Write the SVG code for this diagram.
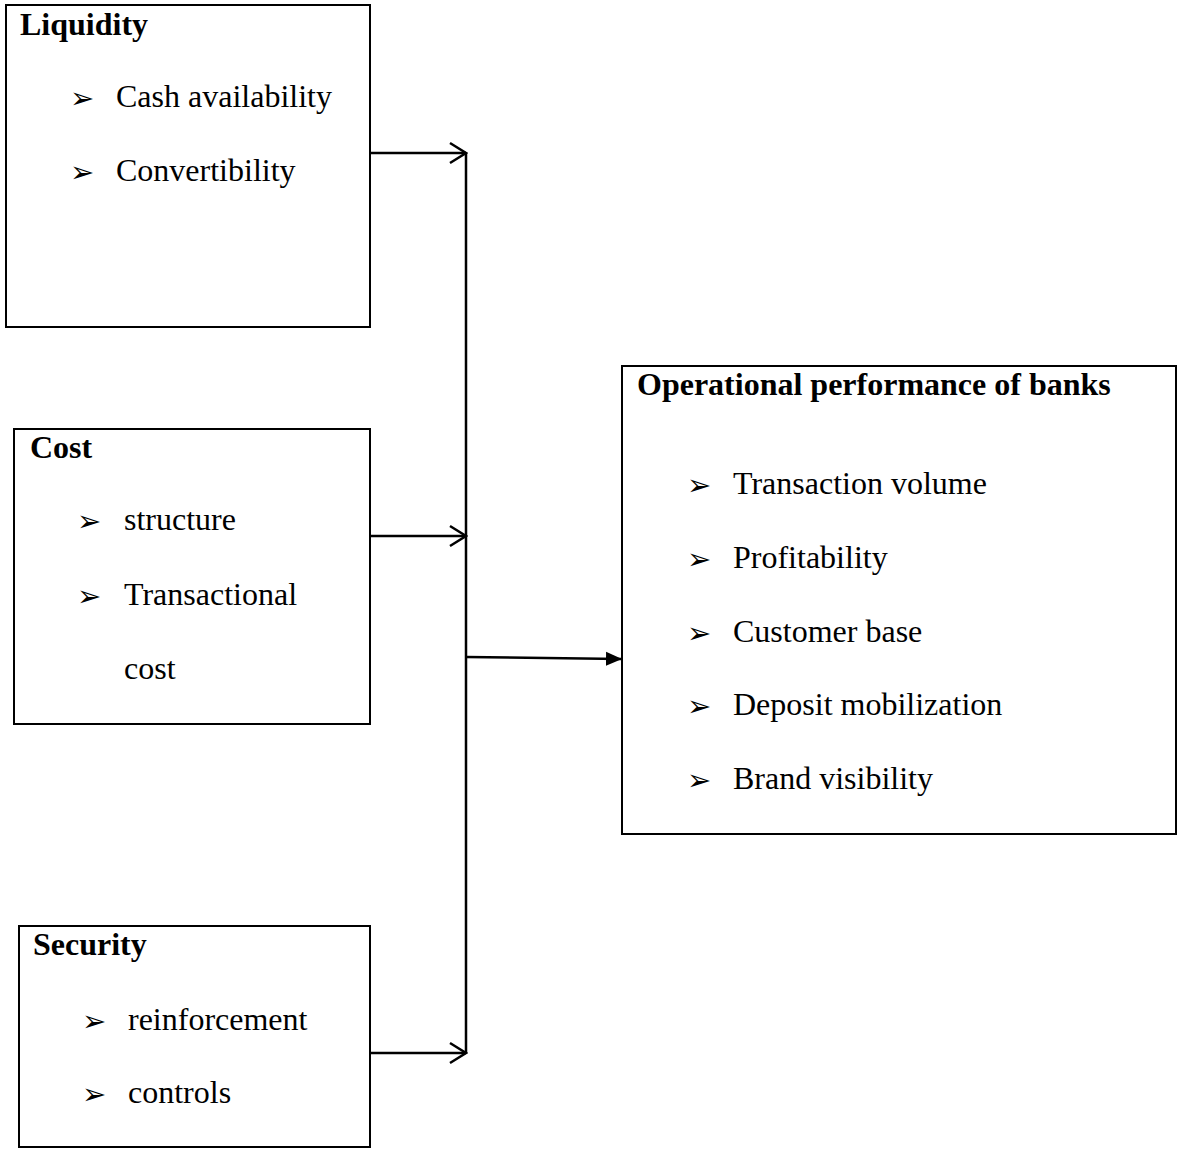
<svg xmlns="http://www.w3.org/2000/svg" width="1178" height="1149" viewBox="0 0 1178 1149">
<style>
.box{fill:#fff;stroke:#000;stroke-width:2}
.title{font-family:"Liberation Serif","Times New Roman",serif;font-weight:bold;font-size:32px;fill:#000}
.item{font-family:"Liberation Serif","Times New Roman",serif;font-size:32px;fill:#000}
.bul{font-family:"DejaVu Sans",sans-serif;font-size:29px;fill:#000}
.conn{stroke:#000;stroke-width:2.5;fill:none}
</style>
<defs>
<marker id="open" viewBox="0 0 20 24" refX="18" refY="12" markerWidth="20" markerHeight="24" markerUnits="userSpaceOnUse" orient="auto">
<path d="M2,2 L18,12 L2,22" fill="none" stroke="#000" stroke-width="2.5"/>
</marker>
<marker id="solid" viewBox="0 0 16 16" refX="15" refY="8" markerWidth="16" markerHeight="16" markerUnits="userSpaceOnUse" orient="auto">
<path d="M0,1 L16,8 L0,15 Z" fill="#000"/>
</marker>
</defs>
<g id="connectors">
<line class="conn" x1="466" y1="153" x2="466" y2="1053"/>
<line class="conn" x1="368" y1="153" x2="466" y2="153" marker-end="url(#open)"/>
<line class="conn" x1="368" y1="536" x2="466" y2="536" marker-end="url(#open)"/>
<line class="conn" x1="368" y1="1053" x2="466" y2="1053" marker-end="url(#open)"/>
<line class="conn" x1="466" y1="657" x2="621" y2="659" marker-end="url(#solid)"/>
</g>
<g id="liquidity">
<rect class="box" x="6" y="5" width="364" height="322"/>
<text class="title" x="20" y="35">Liquidity</text>
<text class="bul" x="70" y="108">➢</text>
<text class="item" x="116" y="107">Cash availability</text>
<text class="bul" x="70" y="182">➢</text>
<text class="item" x="116" y="181">Convertibility</text>
</g>
<g id="cost">
<rect class="box" x="14" y="429" width="356" height="295"/>
<text class="title" x="30" y="458">Cost</text>
<text class="bul" x="77" y="531">➢</text>
<text class="item" x="124" y="530">structure</text>
<text class="bul" x="77" y="606">➢</text>
<text class="item" x="124" y="605">Transactional</text>
<text class="item" x="124" y="679">cost</text>
</g>
<g id="security">
<rect class="box" x="19" y="926" width="351" height="221"/>
<text class="title" x="33" y="955">Security</text>
<text class="bul" x="82" y="1031">➢</text>
<text class="item" x="128" y="1030">reinforcement</text>
<text class="bul" x="82" y="1104">➢</text>
<text class="item" x="128" y="1103">controls</text>
</g>
<g id="operational">
<rect class="box" x="622" y="366" width="554" height="468"/>
<text class="title" x="637" y="395">Operational performance of banks</text>
<text class="bul" x="687" y="495">➢</text>
<text class="item" x="733" y="494">Transaction volume</text>
<text class="bul" x="687" y="569">➢</text>
<text class="item" x="733" y="568">Profitability</text>
<text class="bul" x="687" y="643">➢</text>
<text class="item" x="733" y="642">Customer base</text>
<text class="bul" x="687" y="716">➢</text>
<text class="item" x="733" y="715">Deposit mobilization</text>
<text class="bul" x="687" y="790">➢</text>
<text class="item" x="733" y="789">Brand visibility</text>
</g>
</svg>
